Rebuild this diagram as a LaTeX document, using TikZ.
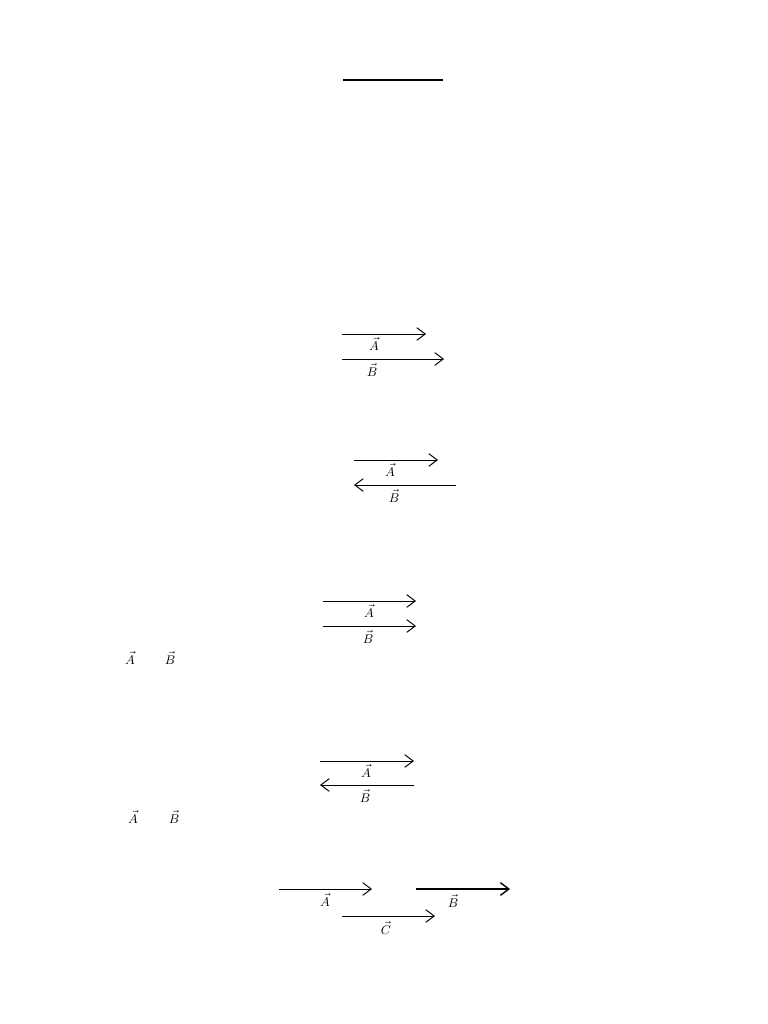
\documentclass[tikz,border=0pt]{standalone}
\usetikzlibrary{arrows.meta}
\tikzset{
  vec/.style={line width=0.7pt, -{Straight Barb[length=6pt,width=9pt]}},
  lbl/.style={font=\small, inner sep=0pt}
}
\begin{document}
\begin{tikzpicture}[x=0.025cm, y=-0.025cm]
\useasboundingbox (0,0) rectangle (768,1024);
% top rule
\coordinate (r1) at (343,80);
\coordinate (r2) at (443,80);
\draw[line width=1.4pt](r1) -- (r2);
% same direction
\coordinate (a1s) at (342,334); \coordinate (a1e) at (426,334);
\coordinate (b1s) at (342,359); \coordinate (b1e) at (444,359);
\draw[vec](a1s) -- (a1e);
\node[lbl] (la1) at (374,344) {$\vec{A}$};
\draw[vec](b1s) -- (b1e);
\node[lbl] (lb1) at (372,370) {$\vec{B}$};
% opposite direction
\coordinate (a2s) at (354,460); \coordinate (a2e) at (438,460);
\coordinate (b2s) at (456,485); \coordinate (b2e) at (354,485);
\draw[vec](a2s) -- (a2e);
\node[lbl] (la2) at (390,470) {$\vec{A}$};
\draw[vec](b2s) -- (b2e);
\node[lbl] (lb2) at (394,496) {$\vec{B}$};
% equal, same direction
\coordinate (a3s) at (323,601); \coordinate (a3e) at (416,601);
\coordinate (b3s) at (323,626); \coordinate (b3e) at (416,626);
\draw[vec](a3s) -- (a3e);
\node[lbl] (la3) at (369,611) {$\vec{A}$};
\draw[vec](b3s) -- (b3e);
\node[lbl] (lb3) at (368,637) {$\vec{B}$};
\node[lbl] (sa3) at (130,658) {$\vec{A}$};
\node[lbl] (sb3) at (170,658) {$\vec{B}$};
% equal, opposite direction
\coordinate (a4s) at (320,761); \coordinate (a4e) at (414,761);
\coordinate (b4s) at (414,785); \coordinate (b4e) at (320,785);
\draw[vec](a4s) -- (a4e);
\node[lbl] (la4) at (366,771) {$\vec{A}$};
\draw[vec](b4s) -- (b4e);
\node[lbl] (lb4) at (365,796) {$\vec{B}$};
\node[lbl] (sa4) at (133,817) {$\vec{A}$};
\node[lbl] (sb4) at (174,817) {$\vec{B}$};
% three vectors
\coordinate (a5s) at (279,889); \coordinate (a5e) at (372,889);
\coordinate (b5s) at (416,889); \coordinate (b5e) at (510,889);
\coordinate (c5s) at (342,916); \coordinate (c5e) at (435,916);
\draw[vec](a5s) -- (a5e);
\node[lbl] (la5) at (325,900) {$\vec{A}$};
\draw[vec, line width=1pt](b5s) -- (b5e);
\node[lbl] (lb5) at (453,901) {$\vec{B}$};
\draw[vec](c5s) -- (c5e);
\node[lbl] (lc5) at (386,928) {$\vec{C}$};
\end{tikzpicture}
\end{document}
